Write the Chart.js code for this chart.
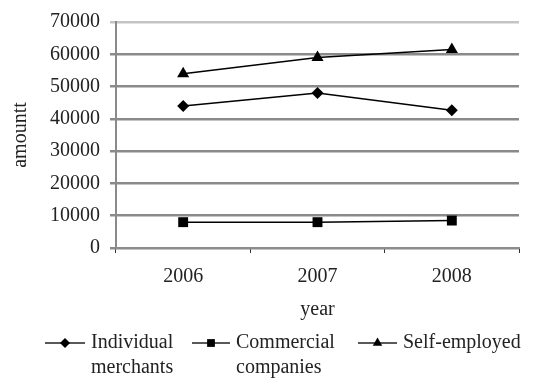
<!DOCTYPE html>
<html>
<head>
<meta charset="utf-8">
<script src="https://cdn.jsdelivr.net/npm/chart.js@4"></script>
<style>
  html, body { margin: 0; padding: 0; background: #fff; }
  #wrap { width: 545px; height: 378px; position: relative; }
</style>
</head>
<body>
<div id="wrap"><canvas id="c" width="545" height="378"></canvas></div>
<script>
// Years on the x axis
const years = ['2006', '2007', '2008'];

// Amounts per group and year
const individualMerchants = [44000, 48000, 42700];
const commercialCompanies = [8000, 8000, 8500];
const selfEmployed = [54000, 59000, 61500];

// Legend captions (one entry per line of text)
const seriesNames = [
  ['Individual', 'merchants'],
  ['Commercial', 'companies'],
  ['Self-employed']
];

// Y axis ticks
const yTicks = [0, 10000, 20000, 30000, 40000, 50000, 60000, 70000];

const FONT = '"Liberation Serif", "Times New Roman", serif';
const TEXT = '#222';

// Legend drawn under the axis title, with wrapped captions
const serifLegend = {
  id: 'serifLegend',
  afterDraw(chart) {
    const ctx = chart.ctx;
    const items = [
      { line: [45, 85], text: 91 },
      { line: [192, 230], text: 236 },
      { line: [358, 397], text: 403 }
    ];
    const y0 = 343, lh = 25;
    ctx.save();
    chart.data.datasets.forEach((ds, i) => {
      const it = items[i];
      ctx.strokeStyle = '#222';
      ctx.lineWidth = 1.5;
      ctx.beginPath();
      ctx.moveTo(it.line[0], y0);
      ctx.lineTo(it.line[1], y0);
      ctx.stroke();
      ctx.fillStyle = '#000';
      Chart.helpers.drawPoint(ctx, {
        pointStyle: ds.pointStyle,
        radius: ds.legendRadius,
        borderWidth: 0
      }, (it.line[0] + it.line[1]) / 2, y0);
      ctx.fillStyle = TEXT;
      ctx.font = '20px ' + FONT;
      ctx.textBaseline = 'middle';
      ctx.textAlign = 'left';
      seriesNames[i].forEach((t, k) => ctx.fillText(t, it.text, y0 + k * lh));
    });
    ctx.restore();
  }
};

const mkSet = (name, data, style, r, lr) => ({
  label: name.join(' '),
  data,
  borderColor: '#000',
  backgroundColor: '#000',
  borderWidth: 1.5,
  pointStyle: style,
  pointRadius: r,
  pointHoverRadius: r,
  pointBorderWidth: 0,
  legendRadius: lr,
  tension: 0
});

new Chart(document.getElementById('c'), {
  type: 'line',
  data: {
    labels: years,
    datasets: [
      mkSet(seriesNames[0], individualMerchants, 'rectRot', 6, 5),
      mkSet(seriesNames[1], commercialCompanies, 'rect', 7, 5.5),
      mkSet(seriesNames[2], selfEmployed, 'triangle', 7, 5.5)
    ]
  },
  plugins: [serifLegend],
  options: {
    responsive: false,
    animation: false,
    events: [],
    layout: { padding: { left: 0, right: 26, top: 18, bottom: 56 } },
    plugins: { legend: { display: false }, tooltip: { enabled: false } },
    scales: {
      x: {
        offset: true,
        grid: {
          offset: true,
          drawOnChartArea: false,
          drawTicks: true,
          tickLength: 5,
          color: '#333',
          lineWidth: 1
        },
        border: { display: true, color: '#8c8c8c', width: 2 },
        ticks: { color: TEXT, font: { family: FONT, size: 20 }, padding: 12 },
        title: {
          display: true, text: 'year', color: TEXT,
          font: { family: FONT, size: 20 }, padding: { top: 10, bottom: 0 }
        },
        afterFit(s) { s.height = 74; }
      },
      y: {
        min: 0,
        max: 70000,
        afterBuildTicks(s) { s.ticks = yTicks.map(v => ({ value: v })); },
        grid: {
          color: ctx => ctx.tick && ctx.tick.value === 70000 ? '#c4c4c4' : '#8a8a8a',
          lineWidth: 2.5,
          drawTicks: true,
          tickLength: 6
        },
        border: { display: true, color: '#8a8a8a', width: 2 },
        ticks: {
          color: TEXT, font: { family: FONT, size: 20 }, padding: 10,
          callback: v => String(v)
        },
        title: {
          display: true, text: 'amountt', color: TEXT,
          font: { family: FONT, size: 20 }, padding: { top: 9, bottom: 0 }
        },
        afterFit(s) { s.width = 116; }
      }
    }
  }
});
</script>
</body>
</html>
